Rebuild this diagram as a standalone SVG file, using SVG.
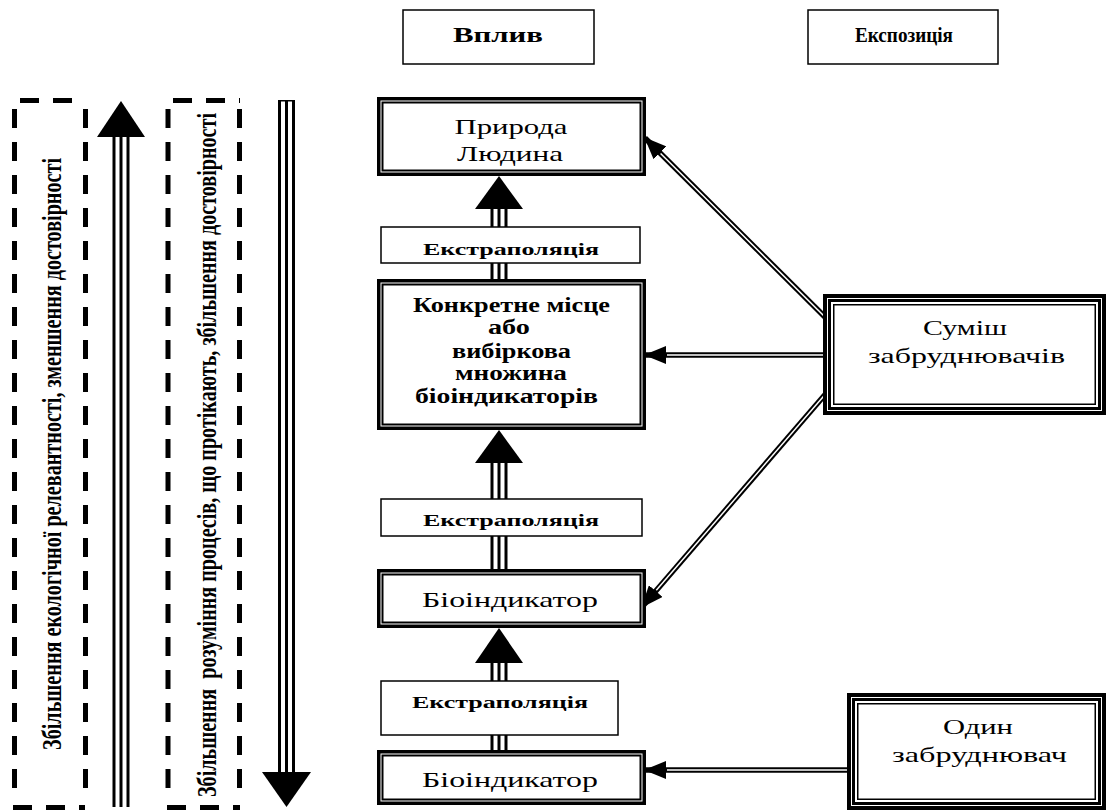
<svg xmlns="http://www.w3.org/2000/svg" width="1108" height="811" viewBox="0 0 1108 811">
<defs>
<style>
.t{font-family:"Liberation Serif","Times New Roman",serif;fill:#000}
.b{font-weight:bold}
.dash{fill:none;stroke:#000;stroke-width:5;stroke-dasharray:19 14}
.thin{fill:#fff;stroke:#000;stroke-width:1.5}
.outer{fill:#fff;stroke:#000;stroke-width:3.5}
.inner{fill:none;stroke:#000;stroke-width:2}
.o4{fill:#fff;stroke:#000;stroke-width:4}
.m3{fill:none;stroke:#000;stroke-width:3}
.i15{fill:none;stroke:#000;stroke-width:1.5}
.dblk{stroke:#000;stroke-width:5.5;fill:none}
.dwht{stroke:#fff;stroke-width:1.5;fill:none}
.tblk{stroke:#000;stroke-width:17}
.twht{stroke:#fff;stroke-width:11}
.tmid{stroke:#000;stroke-width:3}
</style>
<marker id="ah" viewBox="0 0 22 18" markerWidth="22" markerHeight="18" refX="21" refY="9" orient="auto" markerUnits="userSpaceOnUse">
<path d="M0,0 L22,9 L0,18 z" fill="#000"/>
</marker>
</defs>
<rect width="1108" height="811" fill="#fff"/>

<g id="side-boxes">
<g id="side-left">
<line class="dash" x1="20" y1="100.5" x2="85" y2="100.5"/>
<line class="dash" x1="85.5" y1="109" x2="85.5" y2="800"/>
<line class="dash" x1="14.5" y1="109" x2="14.5" y2="800"/>
<line class="dash" x1="13" y1="807.5" x2="85" y2="807.5"/>
<text class="t b" font-size="20" x="-296" y="0" transform="translate(61,454) rotate(-90) scale(1,1.38)" textLength="592" lengthAdjust="spacingAndGlyphs">Збільшення екологічної релевантності, зменшення достовірності</text>
</g>
<g id="side-right">
<line class="dash" x1="173" y1="100.5" x2="240" y2="100.5"/>
<line class="dash" x1="239.5" y1="109" x2="239.5" y2="800"/>
<line class="dash" x1="168" y1="109" x2="168" y2="800"/>
<line class="dash" x1="167" y1="807.5" x2="240" y2="807.5"/>
<text class="t b" font-size="20" x="-342" y="0" style="white-space:pre" transform="translate(216,455) rotate(-90) scale(1,1.38)" textLength="684" lengthAdjust="spacingAndGlyphs">Збільшення  розуміння процесів, що протікають, збільшення достовірності</text>
</g>
</g>

<g id="connectors">
<line class="tblk" x1="121" y1="137" x2="121" y2="807"/>
<line class="twht" x1="121" y1="137" x2="121" y2="807"/>
<line class="tmid" x1="121" y1="137" x2="121" y2="807"/>
<polygon points="97,137 145,137 121,101" fill="#000"/>
<line class="tblk" x1="286.5" y1="100" x2="286.5" y2="772"/>
<line class="twht" x1="286.5" y1="101.5" x2="286.5" y2="772"/>
<line class="tmid" x1="286.5" y1="100" x2="286.5" y2="772"/>
<polygon points="262,772 311,772 286.5,807" fill="#000"/>
<line class="tblk" x1="499" y1="208" x2="499" y2="280"/>
<line class="twht" x1="499" y1="208" x2="499" y2="280"/>
<line class="tmid" x1="499" y1="208" x2="499" y2="280"/>
<polygon points="475,209 523,209 499,176" fill="#000"/>
<line class="tblk" x1="499" y1="462" x2="499" y2="570"/>
<line class="twht" x1="499" y1="462" x2="499" y2="570"/>
<line class="tmid" x1="499" y1="462" x2="499" y2="570"/>
<polygon points="475,463 523,463 499,430" fill="#000"/>
<line class="tblk" x1="499" y1="662" x2="499" y2="751"/>
<line class="twht" x1="499" y1="662" x2="499" y2="751"/>
<line class="tmid" x1="499" y1="662" x2="499" y2="751"/>
<polygon points="475,663 523,663 499,628" fill="#000"/>
<line class="dblk" x1="828" y1="320" x2="645" y2="138" marker-end="url(#ah)"/>
<line class="dwht" x1="828" y1="320" x2="660.6" y2="153.5"/>
<line class="dblk" x1="828" y1="355" x2="645" y2="355" marker-end="url(#ah)"/>
<line class="dwht" x1="828" y1="355" x2="667" y2="355"/>
<line class="dblk" x1="829" y1="390" x2="642" y2="607" marker-end="url(#ah)"/>
<line class="dwht" x1="829" y1="390" x2="656.3" y2="590.3"/>
<line class="dblk" x1="851" y1="770" x2="645" y2="770" marker-end="url(#ah)"/>
<line class="dwht" x1="851" y1="770" x2="667" y2="770"/>
</g>

<g id="header-vplyv">
<rect class="thin" x="403" y="10" width="191" height="54"/>
<text class="t b" x="453" y="42" font-size="22" textLength="90" lengthAdjust="spacingAndGlyphs">Вплив</text>
</g>
<g id="header-ekspozytsiia">
<rect class="thin" x="808" y="10" width="190" height="54"/>
<text class="t b" x="855" y="42" font-size="22" textLength="98" lengthAdjust="spacingAndGlyphs">Експозиція</text>
</g>

<g id="node-pryroda">
<rect class="outer" x="378.75" y="98.75" width="265.5" height="75.5"/>
<rect class="inner" x="382.5" y="102.5" width="258" height="68"/>
<text class="t" x="454.5" y="134" font-size="21" textLength="113" lengthAdjust="spacingAndGlyphs">Природа</text>
<text class="t" x="457" y="161" font-size="21" textLength="106" lengthAdjust="spacingAndGlyphs">Людина</text>
</g>

<g id="node-ekstr1">
<rect class="thin" x="381" y="227" width="259" height="36"/>
<text class="t b" x="423" y="255" font-size="17" textLength="176" lengthAdjust="spacingAndGlyphs">Екстраполяція</text>
</g>

<g id="node-konkretne">
<rect class="outer" x="378.75" y="280.75" width="265.5" height="147.5"/>
<rect class="inner" x="382.5" y="284.5" width="258" height="140"/>
<text class="t b" x="413" y="312" font-size="20" textLength="197" lengthAdjust="spacingAndGlyphs">Конкретне місце</text>
<text class="t b" x="488" y="334" font-size="20" textLength="42" lengthAdjust="spacingAndGlyphs">або</text>
<text class="t b" x="452" y="358" font-size="20" textLength="119" lengthAdjust="spacingAndGlyphs">вибіркова</text>
<text class="t b" x="455" y="380" font-size="20" textLength="112" lengthAdjust="spacingAndGlyphs">множина</text>
<text class="t b" x="415" y="403" font-size="20" textLength="183" lengthAdjust="spacingAndGlyphs">біоіндикаторів</text>
</g>

<g id="node-ekstr2">
<rect class="thin" x="381" y="499" width="261" height="37"/>
<text class="t b" x="423" y="526" font-size="17" textLength="176" lengthAdjust="spacingAndGlyphs">Екстраполяція</text>
</g>

<g id="node-bioindykator1">
<rect class="outer" x="378.75" y="570.75" width="265.5" height="55.5"/>
<rect class="inner" x="382.5" y="574.5" width="258" height="48"/>
<text class="t" x="422" y="607" font-size="21" textLength="176" lengthAdjust="spacingAndGlyphs">Біоіндикатор</text>
</g>

<g id="node-ekstr3">
<rect class="thin" x="381" y="681" width="237" height="54"/>
<text class="t b" x="412" y="708" font-size="17" textLength="176" lengthAdjust="spacingAndGlyphs">Екстраполяція</text>
</g>

<g id="node-bioindykator2">
<rect class="outer" x="378.75" y="751.75" width="265.5" height="51.5"/>
<rect class="inner" x="382.5" y="755.5" width="258" height="44"/>
<text class="t" x="422" y="787" font-size="21" textLength="176" lengthAdjust="spacingAndGlyphs">Біоіндикатор</text>
</g>

<g id="node-sumish">
<rect class="o4" x="825" y="296" width="279" height="117"/>
<rect class="m3" x="829.5" y="300.5" width="270" height="108"/>
<rect class="i15" x="833.75" y="304.75" width="261.5" height="99.5"/>
<text class="t" x="923" y="335" font-size="21" textLength="84" lengthAdjust="spacingAndGlyphs">Суміш</text>
<text class="t" x="868" y="363" font-size="21" textLength="197" lengthAdjust="spacingAndGlyphs">забруднювачів</text>
</g>

<g id="node-odyn">
<rect class="o4" x="849" y="695" width="255" height="113"/>
<rect class="m3" x="853.5" y="699.5" width="246" height="104"/>
<rect class="i15" x="857.75" y="703.75" width="237.5" height="95.5"/>
<text class="t" x="943" y="734" font-size="21" textLength="70" lengthAdjust="spacingAndGlyphs">Один</text>
<text class="t" x="892" y="762" font-size="21" textLength="175" lengthAdjust="spacingAndGlyphs">забруднювач</text>
</g>
</svg>
